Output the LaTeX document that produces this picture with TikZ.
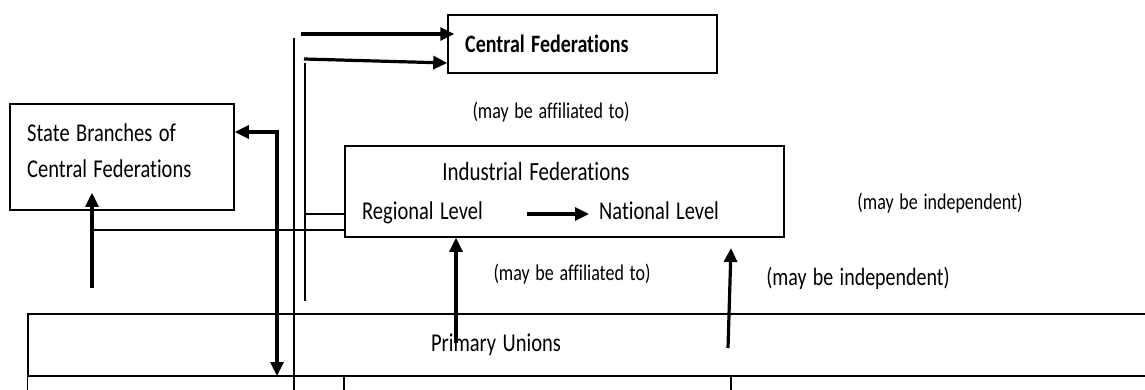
\documentclass[tikz,border=0pt]{standalone}
\usepackage{fontspec}
\setmainfont{Carlito}[Ligatures=NoCommon, WordSpace=1.4]
\usetikzlibrary{calc, arrows.meta}
\newcommand{\tallText}[1]{\scalebox{1}[1.25]{#1}}

\begin{document}
\begin{tikzpicture}[x=1pt, y=-1pt]
    % boxes and texts
    \tikzstyle{box}=[draw, line width=1.5pt, rectangle, inner sep=0]
    \tikzstyle{lbl}=[inner sep=0, font=\fontsize{20.5}{36}\selectfont]
    \tikzstyle{note}=[inner sep=0, font=\fontsize{18}{20}\selectfont]
    % connectors
    \tikzstyle{link}=[line width=1.5pt]
    \tikzstyle{arr}=[line width=3.2pt, -{Triangle[length=14pt, width=13pt]}]
    \tikzstyle{biarr}=[arr, {Triangle[length=14pt, width=13pt]}-{Triangle[length=14pt, width=13pt]}]
    \useasboundingbox (0,0) rectangle (1145,390);
    \clip (0,0) rectangle (1145,390);
    % State branches
    \node[box, minimum width=224, minimum height=106] (sb) at (122,157) {};
    \node[lbl, anchor=base west, align=left] (sbtext) at (27,178) {\tallText{State Branches of}\\\tallText{Central Federations}};
    % Central federations
    \node[box, minimum width=269, minimum height=58] (cf) at (582.5,44) {};
    \node[lbl, font=\fontsize{20}{36}\selectfont\bfseries, anchor=base west] (cftext) at (465,53) {\tallText{Central Federations}};
    \node[note, anchor=base] (aff1) at (551,119) {\tallText{(may be affiliated to)}};
    % Industrial federations
    \node[box, minimum width=439, minimum height=91] (ind) at (564.5,191.5) {};
    \node[lbl, font=\fontsize{21}{36}\selectfont, anchor=base] (indtext) at (536,181) {\tallText{Industrial Federations}};
    \node[lbl, anchor=base west] (reg) at (362,219) {\tallText{Regional Level}};
    \node[lbl, anchor=base west] (nat) at (599,219) {\tallText{National Level}};
    \node[note, anchor=base] (ind1) at (940,210) {\tallText{(may be independent)}};
    \node[note, anchor=base] (aff2) at (572,280) {\tallText{(may be affiliated to)}};
    \node[note, font=\fontsize{20}{22}\selectfont, anchor=base] (ind2) at (858,285) {\tallText{(may be independent)}};
    % Primary unions
    \node[box, minimum width=1132, minimum height=62] (pu) at (594,345) {};
    \node[lbl, anchor=base] (putext) at (496,351) {\tallText{Primary Unions}};
    \draw[box] (pu.south west) -- ++(0,20);
    \draw[box] (344,376) -- (344,395);
    \draw[box] (731,376) -- (731,395);

    \coordinate (v1) at (294,38);
    \coordinate (v1end) at (294,395);
    \coordinate (v2) at (305,63);
    \coordinate (v2end) at (305,301);
    \coordinate (v2mid) at (305,214);
    \coordinate (cfa) at (301,34);
    \coordinate (cfb) at (304,59);
    \coordinate (sbup) at (92,288);
    \coordinate (sbline) at (92,230);
    \coordinate (rgup) at (456,343);
    \coordinate (ntup) at (728,348);
    \coordinate (nttip) at (731,248);
    \coordinate (dn) at (277,376);

    \draw[link] (v1) -- (v1end);
    \draw[link] (v2) -- (v2end);
    \draw[link] (v2mid) -- (ind.west |- v2mid);
    \draw[link] (sbline) -- (ind.west |- sbline);
    \draw[arr] (cfa) -- ($(cf.west |- cfa)+(7,0)$);
    \draw[arr] (cfb) -- ($(cf.west)+(0,19)$);
    \draw[biarr] (dn) |- ($(sb.east)+(0,-25)$);
    \draw[arr] (sbup) -- ($(sbup |- sb.south)+(0,-18)$);
    \draw[arr] ($(reg.base east)+(44,-5)$) -- ($(nat.base west)+(-10,-5)$);
    \draw[arr] (rgup) -- (rgup |- ind.south);
    \draw[arr] (ntup) -- (nttip);
\end{tikzpicture}
\end{document}
